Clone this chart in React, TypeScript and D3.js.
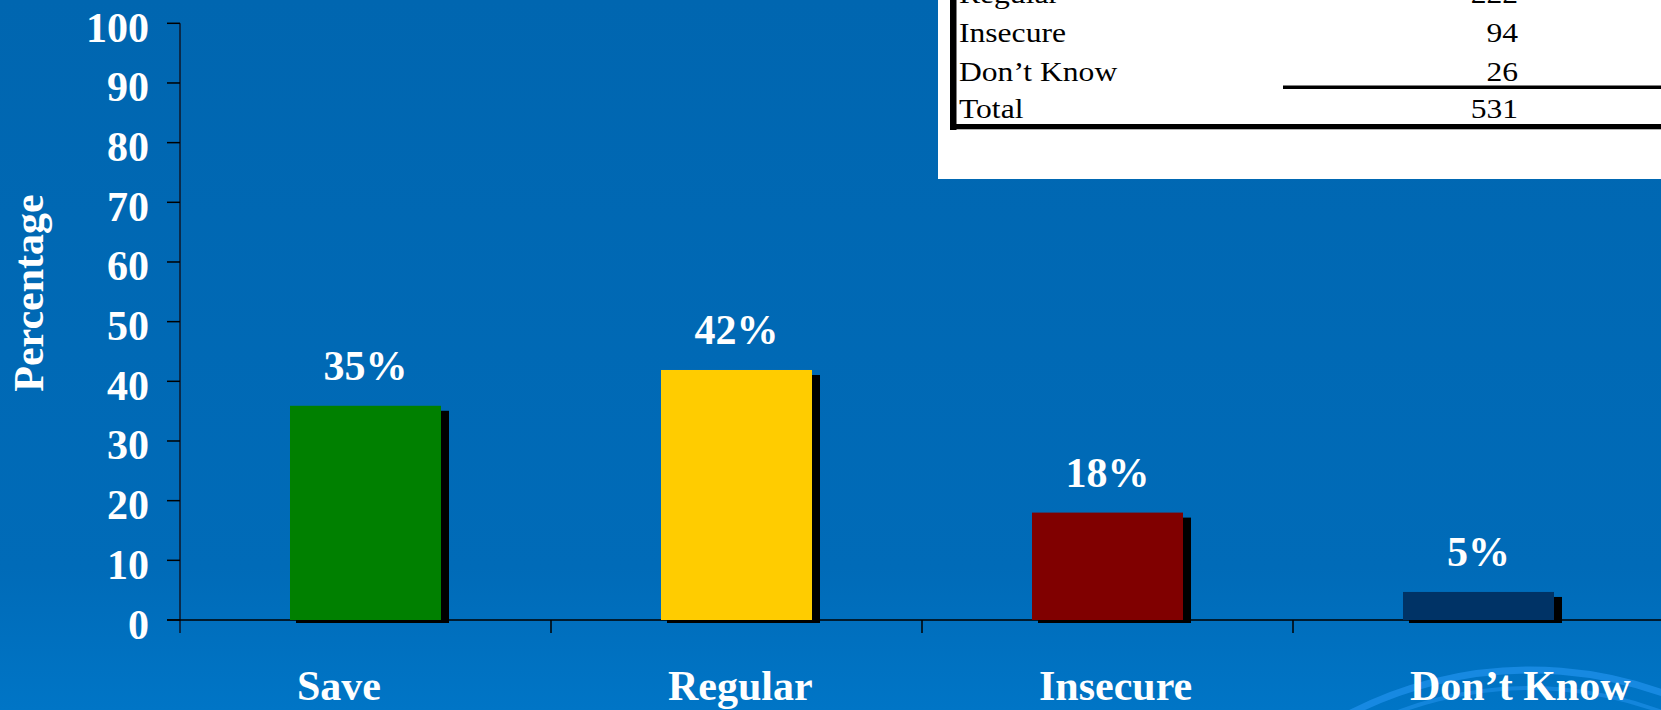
import React from "react";
import * as d3 from "d3";

const categories = ["Save", "Regular", "Insecure", "Don\u2019t Know"];
const percentages = [35.9, 41.9, 18.0, 4.7];
const valueLabels = ["35%", "42%", "18%", "5%"];
const barColors = ["#008000", "#ffcc00", "#800000", "#003366"];
const yTicks = [0, 10, 20, 30, 40, 50, 60, 70, 80, 90, 100];
const tableRows = ["Regular", "Insecure", "Don\u2019t Know", "Total"];
const tableCounts = ["222", "94", "26", "531"];

const W = 1661;
const H = 710;
const SERIF = "'Liberation Serif', 'Times New Roman', Times, serif";

export default function App() {
  const x = d3
    .scaleBand<string>()
    .domain(categories)
    .range([180, 1664])
    .paddingInner(0.593)
    .paddingOuter(0.2965);
  const y = d3.scaleLinear().domain([0, 100]).range([620, 23.3]);
  const step = x.step();
  const x0 = 180;

  // table row positions
  const rowY = d3.scaleLinear().domain([0, 1]).range([3.2, 41.7]);

  const arcPath = (r: number) => {
    const p = d3.path();
    p.arc(1530, 1064, r, Math.PI * 1.1, Math.PI * 1.95);
    return p.toString();
  };

  return (
    <svg
      width={W}
      height={H}
      style={{ position: "fixed", left: 0, top: 0, display: "block" }}
      fontFamily={SERIF}
    >
      <defs>
        <linearGradient id="bg" x1="0" y1="0" x2="0" y2="1">
          <stop offset="0" stopColor="#0066b0" />
          <stop offset="0.8" stopColor="#006bb8" />
          <stop offset="1" stopColor="#0075c6" />
        </linearGradient>
        <clipPath id="clipAll">
          <rect x={0} y={0} width={W} height={H} />
        </clipPath>
      </defs>
      <rect x={0} y={0} width={W} height={H} fill="url(#bg)" />
      <g clipPath="url(#clipAll)">
        <path d={arcPath(394)} fill="none" stroke="#1b8de6" strokeWidth={7} opacity={0.85} />
        <path d={arcPath(376)} fill="none" stroke="#1b8de6" strokeWidth={4} opacity={0.7} />
      </g>

      {/* table box */}
      <rect x={938} y={0} width={W - 938} height={179} fill="#ffffff" />
      <rect x={950} y={0} width={6.5} height={130} fill="#000" />
      <rect x={950} y={124} width={W - 950} height={5.3} fill="#000" />
      <rect x={1283} y={85.5} width={W - 1283} height={3.5} fill="#000" />
      {tableRows.map((r, i) => (
        <text
          key={r}
          transform={`translate(959,${rowY(i) + (i === 3 ? -1 : 0) + (i === 2 ? 0.5 : 0)}) scale(1.17,1)`}
          fontSize={27}
          fill="#000"
        >
          {r}
        </text>
      ))}
      {tableCounts.map((c, i) => (
        <text
          key={c}
          transform={`translate(1518,${rowY(i) + (i === 3 ? -1 : 0) + (i === 2 ? 0.5 : 0)}) scale(1.17,1)`}
          fontSize={27}
          fill="#000"
          textAnchor="end"
        >
          {c}
        </text>
      ))}

      {/* y axis */}
      <line x1={x0} x2={x0} y1={y(100)} y2={633} stroke="#0a2a4a" strokeWidth={2} />
      {yTicks.map((t) => (
        <g key={t}>
          <line x1={167} x2={x0} y1={y(t)} y2={y(t)} stroke="#000" strokeWidth={1.5} />
          <text
            x={149}
            y={y(t) + 18.5}
            textAnchor="end"
            fontSize={42}
            fontWeight="bold"
            fill="#fff"
          >
            {t}
          </text>
        </g>
      ))}
      <text
        transform="translate(43,293) rotate(-90)"
        textAnchor="middle"
        fontSize={42}
        fontWeight="bold"
        fill="#fff"
      >
        Percentage
      </text>

      {/* x axis */}
      <line x1={167} x2={W} y1={y(0)} y2={y(0)} stroke="#000" strokeWidth={1.5} />
      {categories.slice(1).map((c, i) => (
        <line
          key={c}
          x1={x0 + (i + 1) * step}
          x2={x0 + (i + 1) * step}
          y1={y(0)}
          y2={633}
          stroke="#000"
          strokeWidth={1.5}
        />
      ))}

      {/* bars */}
      {categories.map((c, i) => {
        const bx = x(c)!;
        const bw = x.bandwidth();
        const by = y(percentages[i]);
        const bh = y(0) - by;
        return (
          <g key={c}>
            <rect x={bx + 6} y={by + 5} width={bw + 2} height={bh - 2} fill="#000" />
            <rect x={bx} y={by} width={bw} height={bh} fill={barColors[i]} />
            <text
              x={bx + bw / 2}
              y={by - 25.5}
              textAnchor="middle"
              fontSize={42}
              fontWeight="bold"
              fill="#fff"
            >
              {valueLabels[i]}
            </text>
            <text x={bx + 7} y={700} fontSize={42} fontWeight="bold" fill="#fff">
              {c}
            </text>
          </g>
        );
      })}
    </svg>
  );
}
